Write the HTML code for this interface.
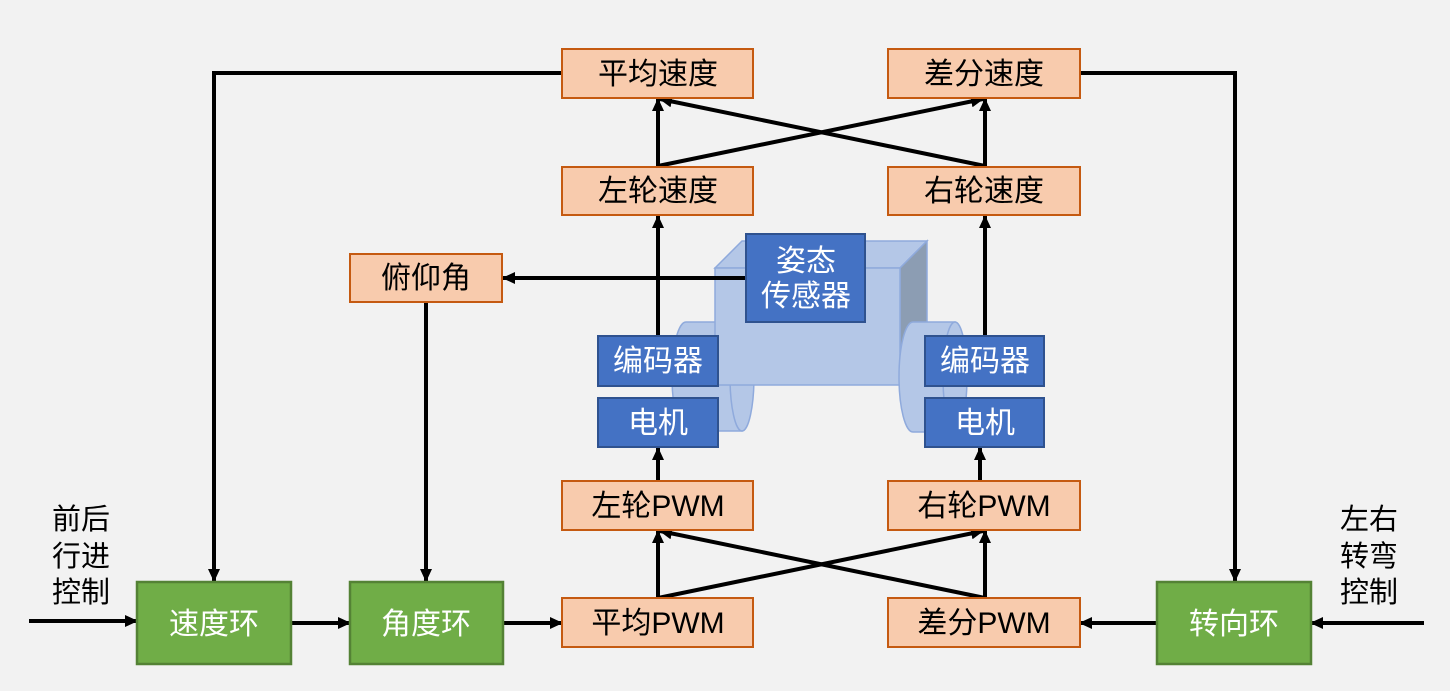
<!DOCTYPE html>
<html><head><meta charset="utf-8"><style>
html,body{margin:0;padding:0;background:#f2f2f2}
svg{display:block}
text{font-family:"Liberation Sans","Noto Sans CJK SC",sans-serif}
</style></head><body>
<svg width="1450" height="691" viewBox="0 0 1450 691" xmlns="http://www.w3.org/2000/svg">
<defs>
<marker id="a" markerWidth="13" markerHeight="12" refX="12" refY="6" orient="auto" markerUnits="userSpaceOnUse">
<path d="M0,0 L13,6 L0,12 z" fill="#000"/></marker>
</defs>
<rect width="1450" height="691" fill="#f2f2f2"/>
<!-- car -->
<g fill="#b4c7e7" stroke="#8faadc" stroke-width="1.5">
<path d="M686,322 H742 V431 H686 A14,54.5 0 0 1 686,322 Z"/>
<ellipse cx="742" cy="376.5" rx="12" ry="54.5"/>
<path d="M715,268 L742,241 H927 L900,268 Z"/>
<path d="M900,268 L927,241 V358 L900,385 Z" fill="#8c9db3"/>
<rect x="715" y="268" width="185" height="117"/>
<path d="M913,322 H955 V432 H913 A14,55 0 0 1 913,322 Z"/>
<ellipse cx="955" cy="377" rx="12" ry="55"/>
</g>
<!-- lines -->
<g stroke="#000" stroke-width="4" fill="none">
<polyline points="562,73 214,73 214,581" marker-end="url(#a)"/>
<polyline points="1080,73 1235,73 1235,581" marker-end="url(#a)"/>
<line x1="658" y1="166" x2="658" y2="99" marker-end="url(#a)"/>
<line x1="985" y1="166" x2="985" y2="99" marker-end="url(#a)"/>
<line x1="658" y1="166" x2="983" y2="99" marker-end="url(#a)"/>
<line x1="985" y1="166" x2="660" y2="99" marker-end="url(#a)"/>
<line x1="658" y1="336" x2="658" y2="216" marker-end="url(#a)"/>
<line x1="985" y1="336" x2="985" y2="216" marker-end="url(#a)"/>
<line x1="746" y1="278" x2="503" y2="278" marker-end="url(#a)"/>
<line x1="426" y1="302" x2="426" y2="581" marker-end="url(#a)"/>
<line x1="658" y1="481" x2="658" y2="448" marker-end="url(#a)"/>
<line x1="980" y1="481" x2="980" y2="448" marker-end="url(#a)"/>
<line x1="658" y1="598" x2="658" y2="531" marker-end="url(#a)"/>
<line x1="985" y1="598" x2="985" y2="531" marker-end="url(#a)"/>
<line x1="658" y1="598" x2="983" y2="531" marker-end="url(#a)"/>
<line x1="985" y1="598" x2="660" y2="531" marker-end="url(#a)"/>
<line x1="29" y1="621" x2="137" y2="621" marker-end="url(#a)"/>
<line x1="291" y1="623" x2="350" y2="623" marker-end="url(#a)"/>
<line x1="503" y1="623" x2="562" y2="623" marker-end="url(#a)"/>
<line x1="1424" y1="623" x2="1311" y2="623" marker-end="url(#a)"/>
<line x1="1157" y1="623" x2="1080" y2="623" marker-end="url(#a)"/>
</g>
<!-- orange boxes -->
<g fill="#f8cbad" stroke="#c55a11" stroke-width="2">
<rect x="562" y="49" width="191" height="49"/>
<rect x="888" y="49" width="192" height="49"/>
<rect x="562" y="167" width="191" height="48"/>
<rect x="888" y="167" width="192" height="48"/>
<rect x="350" y="254" width="152" height="48"/>
<rect x="562" y="481" width="191" height="49"/>
<rect x="888" y="481" width="192" height="49"/>
<rect x="562" y="598" width="191" height="49"/>
<rect x="888" y="598" width="192" height="49"/>
</g>
<g fill="#4472c4" stroke="#2f528f" stroke-width="2">
<rect x="746" y="234" width="119" height="88"/>
<rect x="598" y="336" width="120" height="50"/>
<rect x="598" y="398" width="120" height="49"/>
<rect x="925" y="336" width="119" height="50"/>
<rect x="925" y="398" width="119" height="49"/>
</g>
<g fill="#70ad47" stroke="#548235" stroke-width="2.5">
<rect x="137" y="582" width="154" height="82"/>
<rect x="350" y="582" width="153" height="82"/>
<rect x="1157" y="582" width="154" height="82"/>
</g>
<g font-size="30" text-anchor="middle" fill="#000">
<text x="658" y="84">平均速度</text>
<text x="984" y="84">差分速度</text>
<text x="658" y="201">左轮速度</text>
<text x="984" y="201">右轮速度</text>
<text x="426" y="288">俯仰角</text>
<text x="658" y="516">左轮PWM</text>
<text x="984" y="516">右轮PWM</text>
<text x="658" y="633">平均PWM</text>
<text x="984" y="633">差分PWM</text>
</g>
<g font-size="30" text-anchor="middle" fill="#fff">
<text x="806" y="271">姿态</text>
<text x="806" y="306">传感器</text>
<text x="658" y="371">编码器</text>
<text x="658" y="433">电机</text>
<text x="985" y="371">编码器</text>
<text x="985" y="433">电机</text>
<text x="214" y="634">速度环</text>
<text x="426" y="634">角度环</text>
<text x="1234" y="634">转向环</text>
</g>
<g font-size="29" fill="#000">
<text x="52" y="529">前后</text>
<text x="52" y="566">行进</text>
<text x="52" y="602">控制</text>
<text x="1340" y="529">左右</text>
<text x="1340" y="566">转弯</text>
<text x="1340" y="602">控制</text>
</g>
</svg>
</body></html>
